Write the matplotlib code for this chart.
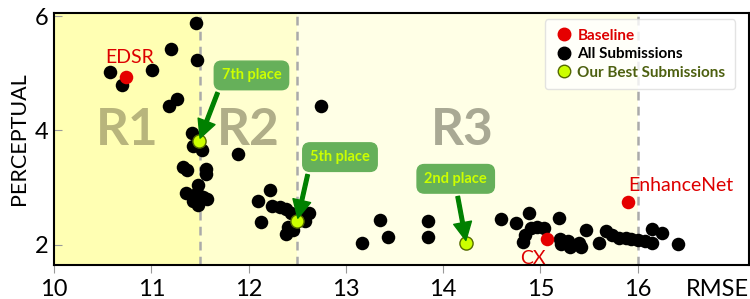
import matplotlib
matplotlib.use("Agg")
import matplotlib.pyplot as plt
from matplotlib.lines import Line2D

plt.rcParams['font.family'] = ['Lato', 'DejaVu Sans']

# ---- data ----
all_x = [10.58, 10.70, 11.01, 11.20, 11.46, 11.47, 11.18, 11.26, 11.42, 11.43,
         11.52, 11.33, 11.37, 11.56, 11.56, 11.48, 11.36, 11.47, 11.57, 11.43,
         11.48, 11.53, 11.89, 12.74, 12.22, 12.10, 12.13, 12.24, 12.32, 12.39,
         12.44, 12.62, 12.58, 12.41, 12.39, 12.46, 12.48, 12.53, 13.17, 13.35,
         13.43, 13.85, 13.84, 14.60, 14.75, 14.88, 15.19, 14.84, 14.82, 14.90,
         14.97, 15.04, 15.20, 15.21, 15.28, 15.31, 15.40, 15.42, 15.47, 15.60,
         15.67, 15.74, 15.81, 15.88, 15.93, 16.00, 16.08, 16.15, 16.15, 16.25,
         16.42]
all_y = [5.02, 4.80, 5.05, 5.43, 5.87, 5.23, 4.43, 4.54, 3.96, 3.73,
         3.66, 3.35, 3.30, 3.32, 3.23, 3.05, 2.91, 2.91, 2.79, 2.76,
         2.69, 2.84, 3.59, 4.43, 2.95, 2.76, 2.39, 2.67, 2.65, 2.62,
         2.56, 2.55, 2.42, 2.30, 2.18, 2.26, 2.52, 2.48, 2.03, 2.43,
         2.13, 2.41, 2.14, 2.44, 2.38, 2.55, 2.47, 2.16, 2.04, 2.29,
         2.30, 2.29, 2.10, 2.01, 2.06, 1.96, 2.03, 1.96, 2.26, 2.02,
         2.24, 2.17, 2.11, 2.11, 2.09, 2.08, 2.07, 2.03, 2.28, 2.21,
         2.01]

base_names = ['EDSR', 'CX', 'EnhanceNet']
base_x = [10.74, 15.07, 15.90]
base_y = [4.93, 2.10, 2.75]

ours_labels = ['7th place', '5th place', '2nd place']
ours_x = [11.49, 12.50, 14.24]
ours_y = [3.81, 2.41, 2.02]

regions = ['R1', 'R2', 'R3']
region_bounds = [10.0, 11.5, 12.5, 16.0]

xticks = [10, 11, 12, 13, 14, 15, 16]
yticks = [2, 4, 6]

# ---- figure ----
fig = plt.figure(figsize=(7.5, 2.99), dpi=100)
ax = fig.add_axes([0.072, 0.114, 0.926, 0.842])
ax.set_xlim(10, 17.14)
ax.set_ylim(1.643, 6.05)

bg_cols = ['#ffffb3', '#ffffcf', '#ffffe6']
txt_cols = ['#b8b57c', '#b0ae88', '#a9a994']
for i, r in enumerate(regions):
    ax.axvspan(region_bounds[i], region_bounds[i + 1], color=bg_cols[i], zorder=0, lw=0)
    ax.text((region_bounds[i] + region_bounds[i + 1]) / 2 if i < 2 else 14.2, 4.0, r,
            fontsize=37, fontweight='bold', color=txt_cols[i],
            ha='center', va='center', zorder=1)
for b in region_bounds[1:]:
    ax.axvline(b, color='#aaaaaa', ls=(0, (3.5, 2.5)), lw=1.8, zorder=1)

ax.scatter(all_x, all_y, s=95, color='black', zorder=3, lw=0)
ax.scatter(base_x, base_y, s=95, color='#e50000', zorder=4, lw=0)
ax.scatter(ours_x, ours_y, s=90, color='#ccff00', edgecolor='#556b00', lw=1.0, zorder=5)

# baseline labels
base_text_pos = [(10.78, 5.28), (14.92, 1.76), (16.44, 3.04)]
for n, (tx, ty) in zip(base_names, base_text_pos):
    ax.text(tx, ty, n, color='#dd0000', fontsize=14, ha='center', va='center', zorder=6)

# annotations
ann_pos = [(12.03, 4.96), (12.94, 3.53), (14.13, 3.15)]
for lab, px, py, (tx, ty) in zip(ours_labels, ours_x, ours_y, ann_pos):
    ax.annotate(lab, xy=(px, py), xytext=(tx, ty), ha='center', va='center',
                fontsize=10.5, fontweight='bold', color='#ccff00', zorder=7,
                bbox=dict(boxstyle='round,pad=0.5,rounding_size=0.5', fc='#66b05a', ec='#66b05a'),
                arrowprops=dict(facecolor='#008000', edgecolor='#008000', width=2.6,
                                headwidth=13, headlength=13, shrink=0.05))

# axes style
for s in ax.spines.values():
    s.set_color('black')
    s.set_linewidth(1.5)
    s.set_zorder(8)
ax.set_xticks(xticks)
ax.set_yticks(yticks)
ax.tick_params(axis='x', direction='out', length=6, color='#999999', labelsize=17, pad=4)
ax.tick_params(axis='y', direction='in', length=6, color='#999999', labelsize=17, pad=4)
ax.set_ylabel('PERCEPTUAL', fontsize=15.5, labelpad=4)
ax.text(16.82, -0.055, 'RMSE', transform=ax.get_xaxis_transform(), fontsize=17,
        ha='center', va='top')

handles = [Line2D([], [], marker='o', ls='', color='#e50000', markersize=9),
           Line2D([], [], marker='o', ls='', color='black', markersize=9),
           Line2D([], [], marker='o', ls='', markerfacecolor='#ccff00',
                  markeredgecolor='#556b00', markersize=9)]
leg = ax.legend(handles, ['Baseline', 'All Submissions', 'Our Best Submissions'],
                loc='upper right', bbox_to_anchor=(0.98, 0.975), borderaxespad=0,
                prop={'weight': 'bold', 'size': 11}, framealpha=0.8,
                handletextpad=0.3, handlelength=1.2, labelspacing=0.3, borderpad=0.6)
leg.get_frame().set_edgecolor('#dddddd')
for t, c in zip(leg.get_texts(), ['#dd0000', 'black', '#4d6010']):
    t.set_color(c)
leg.set_zorder(9)

fig.savefig('out.png', dpi=100)
